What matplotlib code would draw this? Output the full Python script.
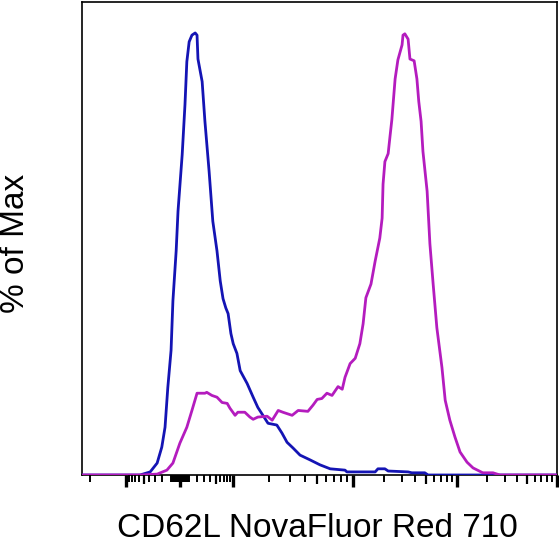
import numpy as np
import matplotlib
matplotlib.use("Agg")
import matplotlib.pyplot as plt

plt.rcParams['font.family'] = ['Liberation Sans', 'DejaVu Sans']

# histogram traces, x in display channels (0-1024), y in % of max
blue_ch = [0, 125, 147, 162, 172, 179, 185, 192, 196, 203, 207, 216, 222, 226, 231, 237,
           244, 248, 250, 259, 265, 274, 282, 291, 298, 304, 310, 315, 321, 326, 334, 341,
           356, 369, 379, 390, 401, 420, 431, 442, 455, 470, 492, 513, 535, 567, 571, 632,
           638, 653, 660, 703, 711, 739, 746, 1024]
blue_pct = [0, 0, 0.7, 2.7, 6.3, 10.8, 19.8, 28.2, 39.4, 50.7, 59.7, 72.5, 83.8, 93.5, 98.0, 99.5,
            100, 99.5, 94.1, 89.0, 80.0, 68.7, 57.4, 50.7, 43.9, 39.9, 37.8, 36.5, 32.0, 29.7, 27.5, 23.6,
            20.7, 17.6, 15.3, 13.5, 11.7, 11.3, 9.5, 7.4, 6.1, 4.5, 3.4, 2.3, 1.4, 1.1, 0.7, 0.7,
            1.4, 1.4, 0.9, 0.7, 0.5, 0.5, 0, 0]

mag_ch = [0, 125, 162, 183, 196, 211, 226, 237, 248, 265, 269, 280, 291, 302, 313, 319,
          330, 336, 351, 362, 369, 379, 399, 410, 423, 433, 453, 466, 487, 498, 507, 517,
          528, 539, 552, 561, 567, 578, 589, 599, 606, 612, 623, 632, 642, 647, 649, 653,
          660, 664, 668, 675, 681, 690, 692, 696, 703, 707, 716, 722, 726, 731, 735, 744,
          750, 757, 765, 776, 783, 793, 804, 815, 830, 843, 864, 886, 901, 1024]
mag_pct = [0, 0, 0.2, 1.1, 2.7, 7.2, 10.8, 14.6, 18.5, 18.5, 18.7, 18.0, 17.6, 16.4, 16.2, 15.1,
           13.5, 14.2, 14.2, 13.1, 12.6, 13.1, 13.3, 12.4, 14.6, 14.2, 13.5, 14.6, 14.4, 15.8, 17.1, 17.3,
           18.5, 18.0, 20.0, 19.4, 22.1, 25.2, 26.4, 29.7, 34.2, 40.1, 43.2, 48.4, 53.6, 58.1, 65.8, 70.9,
           72.7, 76.6, 80.4, 89.6, 93.9, 97.3, 99.5, 99.8, 98.6, 94.1, 93.7, 89.6, 84.5, 80.0, 73.2, 64.2,
           52.3, 43.2, 33.3, 24.3, 16.9, 12.4, 8.6, 5.2, 2.9, 1.6, 0.5, 0.5, 0, 0]

# biexponential axis: decade values and where they sit on the channel scale
decades = [-1e4, -1e3, 0, 1e3, 1e4, 1e5, 1e6]
decade_ch = [-164, 95, 211, 326, 584, 808, 1024]
W = 300.0


def to_channel(v):
    t = np.arcsinh(np.asarray(v, dtype=float) / W)
    return np.interp(t, np.arcsinh(np.array(decades) / W), decade_ch)


major_vals = [-1e3, 0, 1e3, 1e4, 1e5, 1e6]
mid_vals = [-500, 500, 5e3, 5e4, 5e5]
minor_vals = [-2000]
for k in range(1, 10):
    for sgn in (-1, 1):
        minor_vals += [sgn * k * 10, sgn * k * 100]
    minor_vals += [k * 1e3, k * 1e4, k * 1e5]
minor_vals = [v for v in minor_vals if v not in major_vals and v not in mid_vals]

fig = plt.figure(figsize=(5.59, 5.45), dpi=100)
ax = fig.add_axes([82 / 559, 1 - 475 / 545, 475 / 559, 473 / 545])

ax.plot(blue_ch, blue_pct, color='#1414b4', lw=2.0, zorder=3)
ax.plot(mag_ch, mag_pct, color='#b41cbe', lw=2.0, zorder=4)

ax.set_xlim(0, 1024)
ax.set_ylim(0, 107)

ax.set_xticks(to_channel(major_vals))
ax.set_xticks(to_channel(minor_vals), minor=True)
ax.set_xticklabels([])
ax.tick_params(axis='x', which='major', direction='out', length=8.5, width=2.4, color='black')
ax.tick_params(axis='x', which='minor', direction='out', length=5, width=1.4, color='black')
ax.set_yticks([])

sec = ax.secondary_xaxis('bottom')
sec.set_xticks(to_channel(mid_vals))
sec.set_xticklabels([])
sec.tick_params(axis='x', direction='out', length=6.5, width=1.6, color='black')
sec.spines['bottom'].set_visible(False)

for sp in ax.spines.values():
    sp.set_linewidth(1.2)
    sp.set_color('black')

fig.text(317 / 559, 1 - 537 / 545, 'CD62L NovaFluor Red 710', fontsize=24,
         ha='center', va='baseline')
fig.text(16 / 559, 1 - 243 / 545, '% of Max', fontsize=24, rotation=90,
         ha='center', va='center')

fig.savefig('out.png', dpi=100)
